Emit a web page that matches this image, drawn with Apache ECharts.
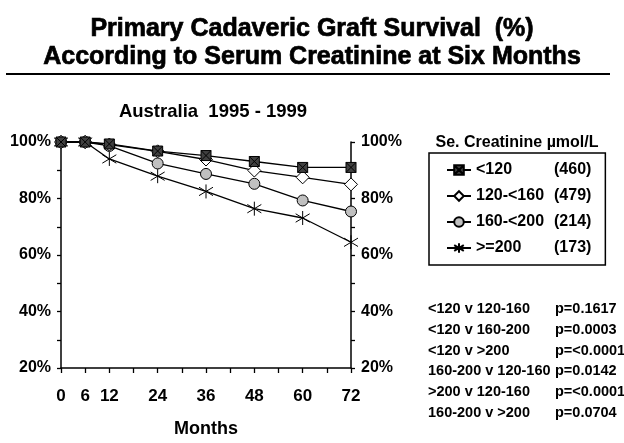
<!DOCTYPE html>
<html>
<head>
    <meta charset="utf-8">
    <style>
        body{ margin:0; padding:0; background:#fff; }
        #chart{ width:624px; height:443px; }
    </style>
</head>
<body>
    <div id="chart"></div>
    <script src="https://cdn.jsdelivr.net/npm/echarts@6/dist/echarts.min.js"></script>
    <script>
        // months after transplant
        var months = [0, 6, 12, 24, 36, 48, 60, 72];
        var tickLabels = [0, 6, 12, 24, 36, 48, 60, 72];

        // graft survival (%) by serum creatinine group
        var groupNames = ["<120", "120-<160", "160-<200", ">=200"];
        var groupCounts = [460, 479, 214, 173];
        var lt120 = [100, 100, 99.3, 96.8, 95.2, 93.1, 91.0, 91.0];
        var g120to160 = [100, 100, 99.1, 96.7, 93.8, 89.9, 87.5, 85.0];
        var g160to200 = [100, 100, 98.6, 92.4, 88.7, 85.2, 79.3, 75.4];
        var ge200 = [100, 100, 94.0, 87.9, 82.5, 76.4, 73.1, 64.5];

        // comparisons
        var comparisons = ["<120 v 120-160", "<120 v 160-200", "<120 v >200",
            "160-200 v 120-160", ">200 v 120-160", "160-200 v >200"];
        var pValues = ["p=0.1617", "p=0.0003", "p=<0.0001", "p=0.0142", "p=<0.0001", "p=0.0704"];

        var FONT = "Liberation Sans, Arial, sans-serif";

        function pairs(vals){
            var out = [];
            for( var i = 0; i < months.length; i++ ){
                out.push([months[i], vals[i]]);
            }
            return out;
        }

        var symbols = [
            { symbol: 'path://M0 0H10V10H0Z M0 0L10 10M10 0L0 10', size: 10, color: '#404040' },
            { symbol: 'diamond', size: 13, color: '#ffffff' },
            { symbol: 'circle', size: 11, color: '#c0c0c0' },
            { symbol: 'path://M0 2L10 8M10 2L0 8M5 0V10', size: 14, color: 'rgba(0,0,0,0)' }
        ];
        var allData = [lt120, g120to160, g160to200, ge200];

        var series = [];
        for( var i = 0; i < groupNames.length; i++ ){
            series.push({
                name: groupNames[i],
                type: 'line',
                data: pairs(allData[i]),
                symbol: symbols[i].symbol,
                symbolSize: symbols[i].size,
                showAllSymbol: true,
                clip: false,
                z: 10 - i,
                lineStyle: { color: '#000', width: 1.3 },
                itemStyle: { color: symbols[i].color, borderColor: '#000', borderWidth: 1 },
                emphasis: { disabled: true }
            });
        }

        var graphics = [
            { type: 'line', shape: { x1: 6, y1: 74, x2: 610, y2: 74 }, style: { stroke: '#000', lineWidth: 2 } },
            { type: 'text', x: 517, y: 143, style: { text: 'Se. Creatinine µmol/L', font: 'bold 16px ' + FONT, fill: '#000', textAlign: 'center', textVerticalAlign: 'middle' } }
        ];
        for( var k = 0; k < comparisons.length; k++ ){
            graphics.push({ type: 'text', x: 428, y: 309 + k * 20.8,
                style: { text: comparisons[k], font: 'bold 14.5px ' + FONT, fill: '#000', textVerticalAlign: 'middle' } });
            graphics.push({ type: 'text', x: 555, y: 309 + k * 20.8,
                style: { text: pValues[k], font: 'bold 14.5px ' + FONT, fill: '#000', textVerticalAlign: 'middle' } });
        }

        var yAxisBase = {
            type: 'value',
            min: 20,
            max: 100,
            interval: 20,
            axisLine: { show: true, lineStyle: { color: '#000', width: 1.5 } },
            axisTick: { show: true, length: 4, lineStyle: { color: '#000', width: 1.3 } },
            minorTick: { show: true, splitNumber: 2, length: 4, lineStyle: { color: '#000', width: 1.3 } },
            splitLine: { show: false },
            axisLabel: { formatter: '{value}%', color: '#000', fontWeight: 'bold', fontSize: 16, fontFamily: FONT, margin: 10 }
        };

        var chart = echarts.init(document.getElementById('chart'), null, { renderer: 'canvas' });
        chart.setOption({
            animation: false,
            backgroundColor: '#fff',
            title: [
                {
                    text: 'Primary Cadaveric Graft Survival  (%)\nAccording to Serum Creatinine at Six Months',
                    left: 'center',
                    top: 10,
                    textStyle: {
                        fontFamily: FONT, fontWeight: 'bold', fontSize: 25, lineHeight: 28, color: '#000',
                        textBorderColor: '#000', textBorderWidth: 0.7
                    }
                },
                {
                    text: 'Australia  1995 - 1999',
                    left: 208,
                    top: 97,
                    textAlign: 'center',
                    textStyle: { fontFamily: FONT, fontWeight: 'bold', fontSize: 18.5, color: '#000' }
                }
            ],
            grid: { left: 61, right: 273, top: 142, bottom: 73 },
            legend: {
                orient: 'vertical',
                left: 429,
                top: 153,
                padding: [9, 14, 9, 17],
                borderColor: '#000',
                borderWidth: 1.5,
                itemWidth: 24,
                itemHeight: 12,
                itemGap: 10,
                selectedMode: false,
                data: groupNames,
                formatter: function(name){
                    var idx = groupNames.indexOf(name);
                    return '{a|' + name + '}{b|(' + groupCounts[idx] + ')}';
                },
                textStyle: {
                    fontFamily: FONT, fontWeight: 'bold', fontSize: 16, color: '#000', lineHeight: 16,
                    rich: {
                        a: { fontFamily: FONT, fontWeight: 'bold', fontSize: 16, lineHeight: 16, width: 78 },
                        b: { fontFamily: FONT, fontWeight: 'bold', fontSize: 16, lineHeight: 16 }
                    }
                }
            },
            xAxis: {
                type: 'value',
                min: 0,
                max: 72,
                interval: 6,
                name: 'Months',
                nameLocation: 'middle',
                nameGap: 52,
                nameTextStyle: { fontFamily: FONT, fontWeight: 'bold', fontSize: 18, color: '#000' },
                axisLine: { lineStyle: { color: '#000', width: 1.5 } },
                axisTick: { length: 5, lineStyle: { color: '#000', width: 1.3 } },
                splitLine: { show: false },
                axisLabel: {
                    color: '#000', fontWeight: 'bold', fontSize: 17, fontFamily: FONT, margin: 20,
                    formatter: function(v){ return tickLabels.indexOf(v) >= 0 ? String(v) : ''; }
                }
            },
            yAxis: [
                Object.assign({}, yAxisBase, { position: 'left' }),
                Object.assign({}, yAxisBase, { position: 'right' })
            ],
            series: series,
            graphic: graphics
        });
    </script>
</body>
</html>
